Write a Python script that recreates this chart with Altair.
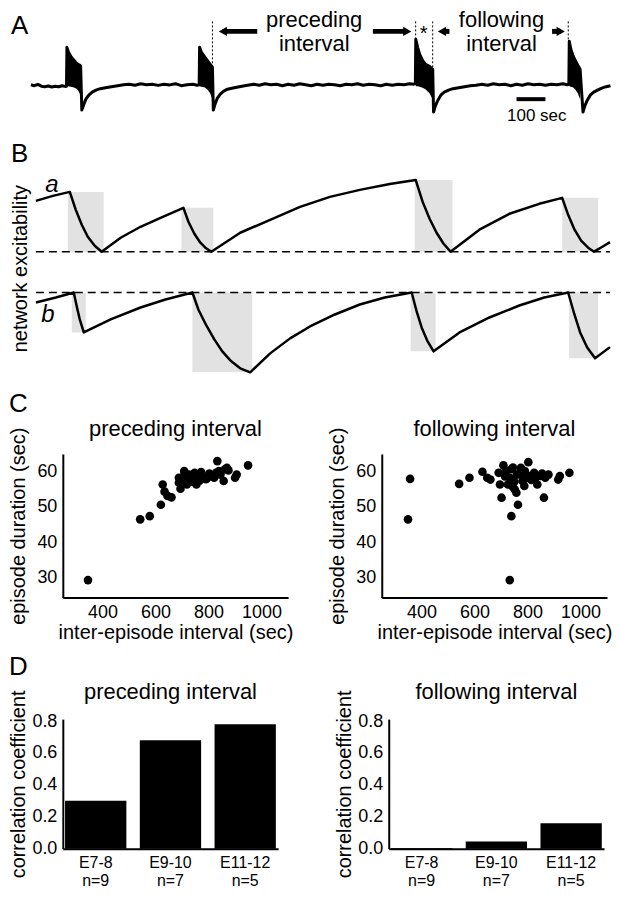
import altair as alt
import pandas as pd

FONT = "Liberation Sans"

# ---------------- Panel A: recording (time in s, signal in a.u., baseline = 0) ----------------
base0_t = [0, 12, 24, 36, 48, 60, 72, 84, 96, 108, 118, 123]
base0_v = [0.5, -0.5, 0.8, -1.0, -1.5, -0.8, -1.8, -1.0, -1.6, -0.5, -1.2, -1.0]
ep1_t = [124.5, 130, 138, 146, 155, 163, 170, 172, 176, 182, 190, 200, 212, 225, 240, 258, 278, 300, 320]
ep1_v = [38, 33, 29, 26, 23, 21, 20, 19, -25, -20, -14, -10, -7, -5, -3.5, -2.5, -1.5, -0.5, 0.5]
base1_t = [340, 360, 380, 400, 420, 440, 460, 480, 500, 520, 540, 560, 575, 582]
base1_v = [1, 0, 1.5, 0.5, 1, -0.2, 1, 0.3, 1.5, -0.5, 0.5, 1, 0, 0.5]
ep2_t = [583.5, 590, 600, 610, 620, 628, 631, 637, 645, 655, 667, 680, 695, 712, 730, 750]
ep2_v = [38, 33, 29, 25, 21, 18, -25, -19, -13, -9, -6, -4, -3, -2, -1, 0]
base2_t = [770, 790, 810, 830, 850, 870, 890, 910, 930, 950, 970, 990, 1010, 1030, 1050,
           1070, 1090, 1110, 1130, 1150, 1170, 1190, 1210, 1230, 1250, 1270, 1290, 1310, 1325, 1330]
base2_v = [1, 0, 1.5, 0.5, 1, -0.5, 1, 0, 1.5, 0.5, -0.5, 1, 0, 1, 0.5,
           -0.5, 1, 0.5, 1.5, 0, 1, 0.5, -0.5, 1, 0, 1, 0.5, 1.5, 1, 1.5]
ep3_t = [1331.5, 1338, 1345, 1355, 1365, 1379, 1390, 1393, 1399, 1408, 1418, 1430, 1445, 1460, 1480, 1500, 1520, 1540]
ep3_v = [46, 38, 31, 25, 21, 19, 16, -27, -21, -15, -10, -7, -5, -3.5, -2.5, -1.5, -0.5, 0]
base3_t = [1560, 1580, 1600, 1620, 1640, 1660, 1680, 1700, 1720, 1740, 1760, 1780, 1800, 1820, 1840, 1855, 1861]
base3_v = [1, 0, 1.5, 0.5, 1, -0.5, 1, 0, 1.5, 0.5, 1, 0, 1, 0.5, 1.5, 0.5, 1]
ep4_t = [1862.5, 1868, 1875, 1883, 1892, 1900, 1910, 1916, 1925, 1935, 1947, 1960, 1975, 1990, 2005]
ep4_v = [44, 36, 30, 25, 20, 16, -27, -21, -15, -10, -7, -5, -3, -1.5, -0.5]

# burst bodies (filled oscillation envelopes)
burst_ep = [1] * 8 + [2] * 6 + [3] * 7 + [4] * 6
burst_t = [124.5, 130, 138, 146, 155, 163, 170, 172,
           583.5, 590, 600, 610, 620, 628,
           1331.5, 1338, 1345, 1355, 1365, 1379, 1390,
           1862.5, 1868, 1875, 1883, 1892, 1900]
burst_top = [38, 33, 29, 26, 23, 21, 20, 19,
             38, 33, 29, 25, 21, 18,
             46, 38, 31, 25, 21, 19, 16,
             44, 36, 30, 25, 20, 16]
burst_bot = [-1, -1, -1.5, -2, -3, -5, -9, -14,
             -1, -1.5, -2, -4, -8, -14,
             -1, -1, -1.5, -2.5, -4, -8, -14,
             -1, -1.5, -2, -4, -8, -14]

# annotations of panel A
mark_t = [628, 1331, 1390, 1859]
mark_top = [64, 64, 64, 64]
mark_bot = [17, 46, 16, 46]
shaft_t0 = [664, 1183, 1422, 1803]
shaft_t1 = [783, 1302, 1448, 1833]
head_t = [664, 1302, 1422, 1833]
head_dir = ["triangle-left", "triangle-right", "triangle-left", "triangle-right"]
arrow_v = 54
ann_text = ["preceding", "interval", "following", "interval", "*", "100 sec"]
ann_t = [980, 980, 1628, 1628, 1359, 1750]
ann_v = [58, 34, 58, 34, 45, -36]
ann_fs = [22, 22, 22, 22, 20, 17]
scalebar_t = [1680, 1780]
scalebar_v = -14

# ---------------- Panel B: model (time a.u., excitability a.u.) ----------------
a_tau = [0, 2.93, 5.86, 6.90, 7.93, 8.97, 10.17, 11.38, 14.66, 18.10, 21.55, 25.52, 26.38, 27.41,
         28.45, 29.31, 30.34, 35.34, 40.52, 45.69, 50.86, 56.03, 61.21, 65.69, 66.90, 68.10, 69.31,
         70.52, 71.72, 76.72, 81.90, 87.07, 91.03, 92.07, 93.10, 94.31, 95.52, 96.55, 98.28, 99.3]
a_eps = [0.708, 0.778, 0.833, 0.583, 0.375, 0.208, 0.083, 0, 0.194, 0.347, 0.472, 0.611, 0.417, 0.25,
         0.125, 0.056, 0, 0.264, 0.444, 0.625, 0.764, 0.861, 0.944, 1.0, 0.694, 0.458, 0.264,
         0.111, 0, 0.306, 0.528, 0.667, 0.75, 0.514, 0.319, 0.153, 0.056, 0, 0.083, 0.133]
b_tau = [0, 3.45, 6.55, 7.07, 7.59, 8.28, 12.93, 18.10, 22.41, 27.07, 28.10, 29.48, 30.86, 32.24,
         33.79, 35.34, 37.07, 40.52, 43.97, 47.41, 51.72, 56.03, 60.34, 65.00, 65.86, 66.72, 67.76,
         68.79, 73.28, 78.45, 83.62, 87.93, 92.07, 93.10, 94.14, 95.34, 96.72, 99.3]
b_eps = [-0.708, -0.639, -0.569, -0.764, -0.944, -1.125, -0.944, -0.778, -0.667, -0.569, -0.806,
         -1.028, -1.222, -1.389, -1.528, -1.625, -1.681, -1.417, -1.208, -1.042, -0.875, -0.736,
         -0.639, -0.569, -0.833, -1.056, -1.25, -1.389, -1.125, -0.917, -0.75, -0.639, -0.569,
         -0.861, -1.125, -1.333, -1.486, -1.33]
shade_tau0 = [5.52, 25.17, 65.52, 91.03, 6.21, 27.07, 64.83, 92.24]
shade_tau1 = [11.72, 30.69, 72.07, 97.24, 8.62, 37.41, 69.14, 97.24]
shade_top = [0.833, 0.611, 1.0, 0.75, -0.569, -0.569, -0.569, -0.569]
shade_bot = [0, 0, 0, 0, -1.125, -1.681, -1.389, -1.486]
threshold_eps = [0, -0.569]
threshold_tau = [0, 99.3]

# ---------------- Panel C: scatter ----------------
prec_x = [345, 542, 578, 620, 627, 634, 645, 660, 688, 694, 688, 700, 706, 708, 712, 718, 722, 726,
          730, 738, 742, 748, 750, 754, 760, 765, 770, 772, 780, 790, 796, 803, 810, 821, 828, 833,
          839, 845, 857, 862, 869, 875, 900, 906, 949]
prec_y = [29.3, 46.4, 47.3, 50.5, 56.2, 54.2, 53.0, 52.6, 56.7, 55.0, 58.1, 57.5, 58.6, 60.0, 57.0,
          56.2, 57.5, 59.0, 58.1, 57.0, 59.1, 59.5, 58.3, 56.2, 58.1, 57.2, 57.8, 59.7, 58.5, 57.7,
          58.1, 59.3, 58.8, 58.1, 59.5, 62.8, 60.0, 59.0, 57.2, 60.5, 60.9, 60.2, 58.1, 59.0, 61.6]
foll_x = [349, 357, 542, 581, 630, 648, 660, 691, 696, 702, 709, 715, 720, 726, 733, 733, 739, 739,
          745, 745, 750, 752, 758, 760, 764, 770, 775, 781, 788, 790, 795, 803, 806, 815, 825, 830,
          837, 849, 855, 862, 867, 879, 916, 922, 958]
foll_y = [46.4, 57.8, 56.4, 58.1, 59.8, 58.1, 57.6, 59.5, 56.2, 52.5, 61.6, 58.5, 60.0, 56.2, 58.1,
          29.3, 60.5, 47.3, 55.5, 61.0, 57.0, 54.8, 53.9, 59.0, 50.5, 59.2, 60.9, 57.2, 55.8, 60.0,
          58.0, 62.5, 58.6, 57.5, 59.5, 58.0, 56.2, 58.6, 59.3, 52.5, 58.1, 59.0, 57.6, 58.6, 59.5]

# ---------------- Panel D: bars ----------------
ages = ["E7-8", "E9-10", "E11-12"]
counts = ["n=9", "n=7", "n=5"]
r_preceding = [0.30, 0.68, 0.78]
r_following = [0.005, 0.045, 0.16]

# ======================================================================
# all rows share the same plot origin (left edge of panels C/D), marks of A/B extend to its left
xA = alt.Scale(domain=[110.3, 2006.9], nice=False, zero=False)
yA = alt.Scale(domain=[-47, 75], nice=False, zero=False)

trace_df = pd.DataFrame({
    "t": base0_t + ep1_t + base1_t + ep2_t + base2_t + ep3_t + base3_t + ep4_t,
    "v": base0_v + ep1_v + base1_v + ep2_v + base2_v + ep3_v + base3_v + ep4_v,
})
burst_df = pd.DataFrame({"ep": burst_ep, "t": burst_t, "top": burst_top, "bot": burst_bot})
mark_df = pd.DataFrame({"t": mark_t, "top": mark_top, "bot": mark_bot})
shaft_df = pd.DataFrame({"t0": shaft_t0, "t1": shaft_t1, "v": [arrow_v] * 4})
head_df = pd.DataFrame({"t": head_t, "v": [arrow_v] * 4, "shape": head_dir})
ann_df = pd.DataFrame({"text": ann_text, "t": ann_t, "v": ann_v, "fs": ann_fs})
bar_df = pd.DataFrame({"t0": [scalebar_t[0]], "t1": [scalebar_t[1]], "v": [scalebar_v]})
labA_df = pd.DataFrame({"text": ["A"], "t": [-69], "v": [51]})

X = lambda f: alt.X(f, scale=xA, axis=None)
Y = lambda f: alt.Y(f, scale=yA, axis=None)

rowA = alt.layer(
    alt.Chart(burst_df).mark_area(color="black", opacity=1).encode(
        x=X("t:Q"), y=Y("top:Q"), y2="bot:Q", detail="ep:N"),
    alt.Chart(trace_df).mark_line(color="black", strokeWidth=3, strokeJoin="round").encode(
        x=X("t:Q"), y=Y("v:Q")),
    alt.Chart(mark_df).mark_rule(color="black", strokeWidth=1, strokeDash=[2, 2]).encode(
        x=X("t:Q"), y=Y("top:Q"), y2="bot:Q"),
    alt.Chart(shaft_df).mark_rule(color="black", strokeWidth=5).encode(
        x=X("t0:Q"), x2="t1:Q", y=Y("v:Q")),
    alt.Chart(head_df).mark_point(filled=True, color="black", opacity=1, size=90, strokeWidth=0).encode(
        x=X("t:Q"), y=Y("v:Q"), shape=alt.Shape("shape:N", scale=None)),
    alt.Chart(bar_df).mark_rule(color="black", strokeWidth=4).encode(
        x=X("t0:Q"), x2="t1:Q", y=Y("v:Q")),
    alt.Chart(ann_df).mark_text(align="center", baseline="alphabetic", color="black").encode(
        x=X("t:Q"), y=Y("v:Q"), text="text:N", size=alt.Size("fs:Q", scale=None)),
    alt.Chart(labA_df).mark_text(align="left", baseline="alphabetic", fontSize=26, color="black").encode(
        x=X("t:Q"), y=Y("v:Q"), text="text:N"),
).properties(width=550, height=122)

# ---------------- row B ----------------
xB = alt.Scale(domain=[4.655, 99.48], nice=False, zero=False)
yB = alt.Scale(domain=[-1.944, 1.667], nice=False, zero=False)
XB = lambda f: alt.X(f, scale=xB, axis=None)
YB = lambda f: alt.Y(f, scale=yB, axis=None)

curve_df = pd.DataFrame({
    "curve": ["a"] * len(a_tau) + ["b"] * len(b_tau),
    "tau": a_tau + b_tau,
    "eps": a_eps + b_eps,
})
shade_df = pd.DataFrame({"t0": shade_tau0, "t1": shade_tau1, "e0": shade_top, "e1": shade_bot})
thr_df = pd.DataFrame({"e": threshold_eps, "t0": [threshold_tau[0]] * 2, "t1": [threshold_tau[1]] * 2})
labB_df = pd.DataFrame({"text": ["a", "b"], "tau": [2.76, 2.07], "eps": [0.93, -0.889]})
ylabB_df = pd.DataFrame({"text": ["network excitability"], "tau": [-2.59], "eps": [-0.236]})
letB_df = pd.DataFrame({"text": ["B"], "tau": [-4.31], "eps": [1.25]})

rowB = alt.layer(
    alt.Chart(shade_df).mark_rect(color="#e2e2e2").encode(
        x=XB("t0:Q"), x2="t1:Q", y=YB("e0:Q"), y2="e1:Q"),
    alt.Chart(thr_df).mark_rule(color="black", strokeWidth=1.5, strokeDash=[8, 5]).encode(
        x=XB("t0:Q"), x2="t1:Q", y=YB("e:Q")),
    alt.Chart(curve_df).mark_line(color="black", strokeWidth=2.5, strokeJoin="round").encode(
        x=XB("tau:Q"), y=YB("eps:Q"), detail="curve:N"),
    alt.Chart(labB_df).mark_text(fontSize=24, fontStyle="italic", baseline="middle", color="black").encode(
        x=XB("tau:Q"), y=YB("eps:Q"), text="text:N"),
    alt.Chart(ylabB_df).mark_text(fontSize=20, angle=270, baseline="middle", align="center", color="black").encode(
        x=XB("tau:Q"), y=YB("eps:Q"), text="text:N"),
    alt.Chart(letB_df).mark_text(fontSize=26, align="left", baseline="alphabetic", color="black").encode(
        x=XB("tau:Q"), y=YB("eps:Q"), text="text:N"),
).properties(width=550, height=260)

# ---------------- row C ----------------
def scatter(xs, ys, title):
    df = pd.DataFrame({"interval": xs, "duration": ys})
    xs_ = alt.Scale(domain=[250, 1100], nice=False, zero=False)
    ys_ = alt.Scale(domain=[24.4, 64.8], nice=False, zero=False)
    x_ax = alt.Axis(values=[400, 600, 800, 1000], format="d", labelOverlap=False,
                    title="inter-episode interval (sec)", titlePadding=1)
    y_ax = alt.Axis(values=[30, 40, 50, 60], labelOverlap=False,
                    title="episode duration (sec)", titlePadding=8)
    pts = alt.Chart(df).mark_circle(size=75, color="black", opacity=1).encode(
        x=alt.X("interval:Q", scale=xs_, axis=x_ax),
        y=alt.Y("duration:Q", scale=ys_, axis=y_ax),
    )
    ttl = alt.Chart(pd.DataFrame({"text": [title], "x": [675], "y": [69.85]})).mark_text(
        fontSize=22, align="center", baseline="alphabetic", color="black").encode(
        x=alt.X("x:Q", scale=xs_, axis=x_ax), y=alt.Y("y:Q", scale=ys_, axis=y_ax), text="text:N")
    return alt.layer(pts, ttl).properties(width=226, height=144)

rowC = alt.hconcat(
    scatter(prec_x, prec_y, "preceding interval"),
    scatter(foll_x, foll_y, "following interval"),
    spacing=34,
    title=alt.TitleParams("C", anchor="start", fontSize=26, fontWeight="normal",
                          baseline="alphabetic", offset=-20),
)

# ---------------- row D ----------------
def bars(vals, title):
    df = pd.DataFrame({"group": [a + "|" + n for a, n in zip(ages, counts)], "r": vals})
    ys_ = alt.Scale(domain=[0, 0.8125], nice=False, zero=False)
    y_ax = alt.Axis(values=[0, 0.2, 0.4, 0.6, 0.8], format=".1f", labelOverlap=False,
                    labelFlush=False, title="correlation coefficient", titlePadding=3)
    b = alt.Chart(df).mark_bar(color="black").encode(
        x=alt.X("group:N", sort=None, scale=alt.Scale(paddingInner=0.18, paddingOuter=0.03),
                axis=alt.Axis(title=None, labelAngle=0, labelExpr="split(datum.value, '|')",
                              labelFontSize=16, labelLineHeight=18, labelOverlap=False)),
        y=alt.Y("r:Q", scale=ys_, axis=y_ax),
    )
    ttl = alt.Chart(pd.DataFrame({"text": [title], "y": [0.9375]})).mark_text(
        fontSize=22, align="center", baseline="alphabetic", color="black").encode(
        y=alt.Y("y:Q", scale=ys_, axis=y_ax), text="text:N")
    return alt.layer(b, ttl).properties(width=216, height=130)

rowD = alt.hconcat(
    bars(r_preceding, "preceding interval"),
    bars(r_following, "following interval"),
    spacing=56,
    title=alt.TitleParams("D", anchor="start", fontSize=26, fontWeight="normal",
                          baseline="alphabetic", offset=-20),
)

inner = alt.vconcat(rowA, rowB, rowC, spacing=0)
chart = alt.vconcat(inner, rowD, spacing=12).properties(padding=0).configure(
    font=FONT
).configure_view(stroke=None).configure_axis(
    domainColor="black", domainWidth=2, ticks=False, tickSize=0, grid=False,
    labelColor="black", labelFontSize=18, labelPadding=6, labelFont=FONT,
    titleColor="black", titleFontSize=20, titleFontWeight="normal", titleFont=FONT,
).configure_title(font=FONT, color="black")

chart.save("out.html", embed_options={"renderer": "svg", "actions": False})
